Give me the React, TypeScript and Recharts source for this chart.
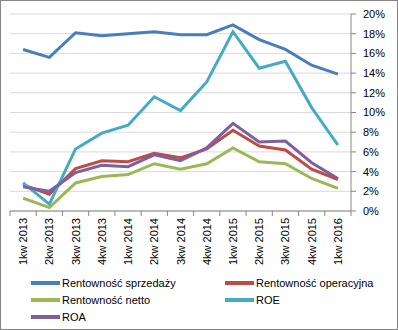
import { LineChart, Line, XAxis, YAxis, CartesianGrid, Legend } from 'recharts';

const quarters = [
  '1kw 2013', '2kw 2013', '3kw 2013', '4kw 2013', '1kw 2014', '2kw 2014', '3kw 2014',
  '4kw 2014', '1kw 2015', '2kw 2015', '3kw 2015', '4kw 2015', '1kw 2016',
];
const sprzedazy = [16.4, 15.6, 18.1, 17.8, 18.0, 18.2, 17.9, 17.9, 18.9, 17.4, 16.4, 14.8, 13.9];
const operacyjna = [2.65, 1.7, 4.3, 5.1, 5.0, 5.85, 5.4, 6.3, 8.2, 6.6, 6.2, 4.25, 3.2];
const netto = [1.3, 0.35, 2.85, 3.5, 3.7, 4.8, 4.25, 4.8, 6.4, 5.0, 4.8, 3.3, 2.3];
const roe = [2.86, 0.7, 6.3, 7.9, 8.7, 11.6, 10.2, 13.1, 18.2, 14.5, 15.2, 10.5, 6.7];
const roa = [2.45, 2.0, 3.9, 4.65, 4.5, 5.7, 5.1, 6.4, 8.9, 7.0, 7.1, 4.9, 3.3];
const yTicks = [0, 2, 4, 6, 8, 10, 12, 14, 16, 18, 20];

const series = [
  { key: 'sprzedazy', name: 'Rentowność sprzedaży', color: '#4A7EBB' },
  { key: 'operacyjna', name: 'Rentowność operacyjna', color: '#BE4B48' },
  { key: 'netto', name: 'Rentowność netto', color: '#98B954' },
  { key: 'roe', name: 'ROE', color: '#46AAC5' },
  { key: 'roa', name: 'ROA', color: '#7D60A0' },
];

const data = quarters.map((q, i) => ({
  q,
  sprzedazy: sprzedazy[i],
  operacyjna: operacyjna[i],
  netto: netto[i],
  roe: roe[i],
  roa: roa[i],
}));

const W = 396;
const H = 328;
const margin = { top: 13, right: 6, left: 9, bottom: 4 };
const yAxisWidth = 40;
const plotWidth = W - margin.left - margin.right - yAxisWidth;
const band = plotWidth / quarters.length;
const font = '"Liberation Sans", Arial, sans-serif';
const axisColor = '#868686';

const QuarterTick = (props: any) => {
  const { x, y, payload, index } = props;
  const half = band / 2;
  return (
    <g>
      <line x1={x - half} x2={x - half} y1={y - 5} y2={y} stroke={axisColor} />
      {index === quarters.length - 1 && (
        <line x1={x + half} x2={x + half} y1={y - 5} y2={y} stroke={axisColor} />
      )}
      <text
        x={x}
        y={y + 2}
        dy={4}
        transform={`rotate(-90, ${x}, ${y + 2})`}
        textAnchor="end"
        fontSize={11}
        fontFamily={font}
        fill="#000"
      >
        {payload.value}
      </text>
    </g>
  );
};

const LegendBox = () => (
  <div
    style={{
      display: 'grid',
      gridTemplateColumns: '194px 160px',
      rowGap: 3,
      paddingLeft: 21,
      paddingTop: 7,
      fontFamily: font,
      fontSize: 11,
      color: '#000',
    }}
  >
    {series.map((s) => (
      <div key={s.key} style={{ display: 'flex', alignItems: 'center', height: 14 }}>
        <span style={{ display: 'inline-block', width: 29, height: 4, background: s.color, marginRight: 2 }} />
        <span>{s.name}</span>
      </div>
    ))}
  </div>
);

export default function App() {
  return (
    <div
      style={{
        position: 'absolute',
        left: 0,
        top: 0,
        width: 398,
        height: 330,
        boxSizing: 'border-box',
        border: `1px solid ${axisColor}`,
        background: '#fff',
      }}
    >
      <LineChart width={W} height={H} data={data} margin={margin}>
        <CartesianGrid horizontal vertical={false} stroke="#D9D9D9" />
        <XAxis
          dataKey="q"
          interval={0}
          height={58}
          tickSize={5}
          tickMargin={0}
          tickLine={false}
          padding={{ left: band / 2, right: band / 2 }}
          stroke={axisColor}
          tick={<QuarterTick />}
        />
        <YAxis
          orientation="right"
          width={yAxisWidth}
          domain={[0, 20]}
          ticks={yTicks}
          interval={0}
          tickSize={5}
          tickMargin={7}
          stroke={axisColor}
          tickFormatter={(v: number) => `${v}%`}
          tick={{ fontSize: 11, fontFamily: font, fill: '#000', textAnchor: 'start' }}
        />
        <Legend verticalAlign="bottom" height={56} content={<LegendBox />} />
        {series.map((s) => (
          <Line
            key={s.key}
            type="linear"
            dataKey={s.key}
            name={s.name}
            stroke={s.color}
            strokeWidth={3}
            dot={false}
            isAnimationActive={false}
          />
        ))}
      </LineChart>
    </div>
  );
}
